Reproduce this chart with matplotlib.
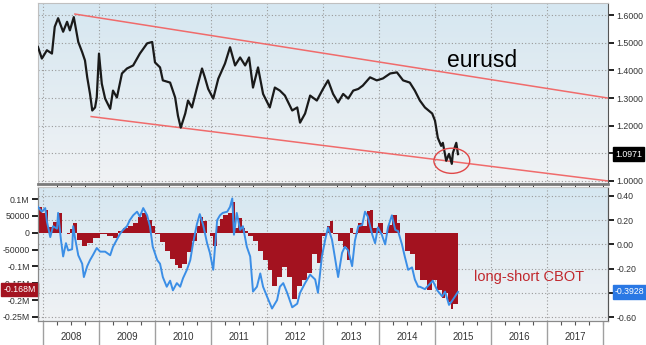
import matplotlib
matplotlib.use('Agg')
import matplotlib.pyplot as plt
import matplotlib.transforms as mtransforms
from matplotlib.colors import LinearSegmentedColormap
from matplotlib.patches import Ellipse
import numpy as np

plt.rcParams['font.family'] = ['Liberation Sans', 'DejaVu Sans']

# ---- data (x = decimal year) ----
px_t = [2007.91, 2007.98, 2008.07, 2008.16, 2008.21, 2008.27, 2008.36, 2008.43, 2008.48, 2008.55,
        2008.63, 2008.70, 2008.75, 2008.79, 2008.84, 2008.88, 2008.93, 2008.96, 2009.00, 2009.05,
        2009.11, 2009.20, 2009.25, 2009.32, 2009.41, 2009.50, 2009.61, 2009.73, 2009.86, 2009.95,
        2010.00, 2010.09, 2010.14, 2010.27, 2010.36, 2010.41, 2010.46, 2010.54, 2010.59, 2010.66,
        2010.75, 2010.84, 2010.89, 2010.95, 2011.04, 2011.13, 2011.25, 2011.34, 2011.43, 2011.52,
        2011.61, 2011.68, 2011.75, 2011.84, 2011.93, 2012.05, 2012.14, 2012.23, 2012.32, 2012.45,
        2012.54, 2012.59, 2012.68, 2012.77, 2012.89, 2013.00, 2013.09, 2013.18, 2013.27, 2013.36,
        2013.45, 2013.54, 2013.63, 2013.71, 2013.84, 2013.96, 2014.07, 2014.20, 2014.32, 2014.43,
        2014.55, 2014.64, 2014.73, 2014.82, 2014.95, 2015.00, 2015.05, 2015.11, 2015.14, 2015.20,
        2015.25, 2015.30, 2015.32, 2015.38, 2015.41]
px_v = [1.485, 1.443, 1.473, 1.461, 1.558, 1.589, 1.540, 1.576, 1.545, 1.593,
        1.503, 1.466, 1.436, 1.375, 1.315, 1.255, 1.266, 1.302, 1.461, 1.352,
        1.298, 1.261, 1.327, 1.302, 1.389, 1.407, 1.418, 1.461, 1.498, 1.503,
        1.429, 1.411, 1.364, 1.356, 1.302, 1.236, 1.193, 1.244, 1.291, 1.266,
        1.338, 1.407, 1.375, 1.333, 1.298, 1.370, 1.425, 1.484, 1.418, 1.447,
        1.418, 1.447, 1.338, 1.411, 1.315, 1.266, 1.338, 1.327, 1.309, 1.255,
        1.266, 1.211, 1.244, 1.309, 1.291, 1.333, 1.364, 1.315, 1.284, 1.315,
        1.298, 1.327, 1.333, 1.345, 1.375, 1.364, 1.371, 1.389, 1.393, 1.364,
        1.356, 1.327, 1.291, 1.266, 1.244, 1.218, 1.156, 1.127, 1.138, 1.073,
        1.098, 1.062, 1.102, 1.138, 1.0971]

# channel lines and circled area
upper_t = [2008.57, 2018.09]
upper_v = [1.604, 1.300]
lower_t = [2008.86, 2018.09]
lower_v = [1.233, 1.000]
circle_t, circle_v = 2015.30, 1.073

# CBOT net long-short contracts (left axis)
pos_t = [2007.91, 2007.98, 2008.04, 2008.09, 2008.18, 2008.27, 2008.34, 2008.43, 2008.48, 2008.54,
         2008.61, 2008.70, 2008.79, 2008.89, 2009.02, 2009.14, 2009.25, 2009.34, 2009.43, 2009.52,
         2009.61, 2009.70, 2009.77, 2009.86, 2009.95, 2010.00, 2010.09, 2010.18, 2010.27, 2010.36,
         2010.41, 2010.48, 2010.57, 2010.66, 2010.75, 2010.80, 2010.86, 2010.93, 2010.98, 2011.04,
         2011.11, 2011.16, 2011.21, 2011.30, 2011.38, 2011.43, 2011.48, 2011.55, 2011.61, 2011.66,
         2011.75, 2011.84, 2011.93, 2012.02, 2012.09, 2012.18, 2012.27, 2012.36, 2012.45, 2012.54,
         2012.63, 2012.71, 2012.80, 2012.89, 2012.98, 2013.07, 2013.13, 2013.18, 2013.27, 2013.36,
         2013.43, 2013.48, 2013.54, 2013.63, 2013.71, 2013.79, 2013.84, 2013.89, 2013.98, 2014.07,
         2014.16, 2014.23, 2014.32, 2014.38, 2014.46, 2014.55, 2014.64, 2014.73, 2014.86, 2014.95,
         2015.04, 2015.13, 2015.18, 2015.23, 2015.29, 2015.32, 2015.41]
pos_v = [76000, 57000, 66000, 18000, 33000, 57000, -2000, -5000, 10000, 29000,
         -21000, -40000, -30000, -15000, -5000, -10000, -15000, 5000, 15000, 20000,
         30000, 48000, 57000, 38000, 20000, -5000, -29000, -53000, -77000, -96000,
         -106000, -92000, -58000, -25000, 20000, 48000, 35000, 0, -10000, -40000,
         20000, 40000, 53000, 58000, 91000, 14000, 43000, 14000, 5000, -10000,
         -24000, -53000, -82000, -111000, -159000, -130000, -101000, -130000, -197000, -159000,
         -140000, -120000, -63000, -91000, -10000, 19000, 34000, -5000, -24000, -43000,
         -82000, 14000, -5000, 29000, 19000, 63000, 67000, 14000, 29000, -5000,
         24000, 53000, 29000, 0, -53000, -63000, -111000, -140000, -169000, -140000,
         -169000, -193000, -178000, -207000, -227000, -212000, -168000]

# blue series (right axis)
blue_t = [2007.91, 2007.98, 2008.04, 2008.07, 2008.13, 2008.18, 2008.25, 2008.27, 2008.32, 2008.36,
          2008.41, 2008.45, 2008.52, 2008.54, 2008.57, 2008.63, 2008.70, 2008.73, 2008.79, 2008.84,
          2008.89, 2008.96, 2009.02, 2009.11, 2009.20, 2009.25, 2009.32, 2009.38, 2009.43, 2009.50,
          2009.55, 2009.61, 2009.68, 2009.73, 2009.79, 2009.86, 2009.91, 2009.96, 2010.04, 2010.09,
          2010.14, 2010.21, 2010.27, 2010.32, 2010.39, 2010.45, 2010.50, 2010.57, 2010.63, 2010.68,
          2010.75, 2010.80, 2010.86, 2010.93, 2010.98, 2011.04, 2011.11, 2011.16, 2011.21, 2011.29,
          2011.34, 2011.38, 2011.41, 2011.46, 2011.52, 2011.57, 2011.64, 2011.70, 2011.75, 2011.82,
          2011.88, 2011.93, 2012.00, 2012.09, 2012.18, 2012.23, 2012.29, 2012.36, 2012.45, 2012.54,
          2012.59, 2012.68, 2012.77, 2012.86, 2012.91, 2012.98, 2013.04, 2013.09, 2013.16, 2013.21,
          2013.27, 2013.34, 2013.39, 2013.45, 2013.52, 2013.57, 2013.63, 2013.70, 2013.75, 2013.80,
          2013.88, 2013.93, 2013.98, 2014.05, 2014.11, 2014.16, 2014.23, 2014.29, 2014.34, 2014.41,
          2014.46, 2014.52, 2014.59, 2014.64, 2014.70, 2014.73, 2014.82, 2014.88, 2014.96, 2015.04,
          2015.13, 2015.18, 2015.25, 2015.30, 2015.41]
blue_v = [0.31, 0.27, 0.30, 0.19, 0.06, 0.15, 0.13, 0.26, 0.04, -0.10,
          0.01, -0.05, -0.04, 0.15, 0.06, -0.09, -0.16, -0.27, -0.18, -0.13,
          -0.09, -0.03, -0.06, -0.06, -0.09, -0.02, 0.04, 0.09, 0.12, 0.15,
          0.20, 0.24, 0.27, 0.23, 0.30, 0.24, 0.15, -0.02, -0.13, -0.16,
          -0.27, -0.35, -0.30, -0.38, -0.32, -0.35, -0.28, -0.21, -0.13, 0.01,
          0.17, 0.25, 0.16, 0.01, -0.07, -0.21, 0.20, 0.24, 0.26, 0.27,
          0.31, 0.38, 0.08, 0.26, 0.12, 0.15, -0.02, -0.10, -0.39, -0.35,
          -0.24, -0.35, -0.43, -0.53, -0.46, -0.35, -0.32, -0.40, -0.52, -0.49,
          -0.40, -0.32, -0.25, -0.29, -0.40, -0.10, 0.04, 0.14, 0.04, -0.10,
          -0.27, -0.07, -0.02, -0.05, -0.18, 0.03, 0.15, 0.16, 0.27, 0.23,
          0.08, 0.01, 0.14, 0.08, 0.00, 0.14, 0.24, 0.12, 0.11, 0.00,
          -0.10, -0.21, -0.19, -0.29, -0.35, -0.35, -0.37, -0.34, -0.30, -0.38,
          -0.43, -0.39, -0.50, -0.47, -0.3928]

years = list(range(2008, 2018))
px_ticks = [1.0, 1.1, 1.2, 1.3, 1.4, 1.5, 1.6]
pos_ticks = [100000, 50000, 0, -50000, -100000, -150000, -200000, -250000]
pos_labels = ['0.1M', '50000', '0', '-50000', '-0.1M', '-0.15M', '-0.2M', '-0.25M']
blue_ticks = [0.4, 0.2, 0.0, -0.2, -0.4, -0.6]

XMIN, XMAX = 2007.911, 2018.089
TXT = '#333333'
FS = 6.3


def gradient(ax, top, bottom):
    g = np.linspace(0, 1, 100).reshape(-1, 1)
    cmap = LinearSegmentedColormap.from_list('bg', [top, bottom])
    ax.imshow(g, cmap=cmap, extent=[0, 1, 0, 1], transform=ax.transAxes,
              aspect='auto', zorder=0, interpolation='bilinear')


fig = plt.figure(figsize=(6.46, 3.45), dpi=100)
fig.patch.set_facecolor('white')

L, W = 38 / 646, 570 / 646
ax1 = fig.add_axes([L, 1 - 184 / 345, W, 181 / 345])
ax2 = fig.add_axes([L, 1 - 321 / 345, W, 134 / 345], sharex=ax1)
ax3 = ax2.twinx()
axl = fig.add_axes([L, 0, W, 23 / 345], sharex=ax1)

# ---- top panel: eurusd ----
gradient(ax1, '#d6e7f1', '#f0f2f4')
ax1.plot(px_t, px_v, color='#1a1a1a', lw=1.6, zorder=3)
ax1.plot(upper_t, upper_v, color='#f06b6b', lw=1.1, zorder=2)
ax1.plot(lower_t, lower_v, color='#f06b6b', lw=1.1, zorder=2)
ax1.add_patch(Ellipse((circle_t, circle_v), 0.64, 0.091, fill=False,
                      edgecolor='#e04848', lw=1.0, zorder=4))
ax1.set_xlim(XMIN, XMAX)
ax1.set_ylim(0.989, 1.644)
ax1.yaxis.tick_right()
ax1.set_yticks(px_ticks)
ax1.set_yticklabels(['%.4f' % v if v != 1.1 else '' for v in px_ticks])
ax1.set_xticks(years)
ax1.tick_params(axis='x', length=0, labelbottom=False)
ax1.tick_params(axis='y', direction='out', length=4, width=1.4, color='#222222',
                labelsize=FS, labelcolor=TXT, pad=2)
ax1.grid(True, color='#9a9a9a', ls=(0, (1, 2)), lw=0.8, zorder=1)
ax1.text(0.779, 0.685, 'eurusd', transform=ax1.transAxes, fontsize=16.5,
         ha='center', va='center', color='black')
tr1 = mtransforms.blended_transform_factory(ax1.transAxes, ax1.transData)
ax1.text(1.012, px_v[-1], '%.4f' % px_v[-1], transform=tr1, fontsize=FS,
         color='white', ha='left', va='center', zorder=6, clip_on=False,
         bbox=dict(boxstyle='square,pad=0.25', fc='black', ec='black'))
for s in ['top', 'left']:
    ax1.spines[s].set_color('#c0c0c0')
ax1.spines['right'].set_color('#555555')
ax1.spines['bottom'].set_color('#7a7a7a')
ax1.spines['bottom'].set_linewidth(2)

# ---- bottom panel: positioning ----
gradient(ax2, '#d6e7f1', '#f0f2f4')
tr2 = mtransforms.blended_transform_factory(ax2.transAxes, ax3.transData)
for v in blue_ticks:
    ax2.plot([0, 1], [v, v], transform=tr2, color='#9a9a9a', ls=(0, (1, 2)), lw=0.8, zorder=1)
for y in years:
    ax2.axvline(y, color='#9a9a9a', ls=(0, (1, 2)), lw=0.8, zorder=1)
ax2.fill_between(pos_t, pos_v, 0, step='post', color='#a3121f', lw=0, zorder=2)
ax2.set_ylim(-261900, 135600)
ax2.set_yticks(pos_ticks)
ax2.set_yticklabels(pos_labels)
ax2.tick_params(axis='y', direction='out', length=4, width=1.4, color='#222222',
                labelsize=FS, labelcolor=TXT, pad=2)
ax2.set_xticks(years)
ax2.set_xticks([y + q / 4 for y in years for q in (1, 2, 3)] + [2018.0], minor=True)
ax2.tick_params(axis='x', which='major', length=0, labelbottom=False)
ax2.tick_params(axis='x', which='minor', direction='out', length=3, width=0.8, color='#555555')
ax2.text(-0.004, pos_v[-1], '-0.168M', transform=mtransforms.blended_transform_factory(
    ax2.transAxes, ax2.transData), fontsize=FS, color='white', ha='right', va='center',
    zorder=6, clip_on=False, bbox=dict(boxstyle='square,pad=0.25', fc='#a3121f', ec='#a3121f'))
ax2.text(0.861, 0.328, 'long-short CBOT', transform=ax2.transAxes, fontsize=10.5,
         color='#c0282d', ha='center', va='center', zorder=6)

ax3.plot(blue_t, blue_v, color='#3b8ee6', lw=1.4, zorder=3)
ax3.set_ylim(-0.633, 0.474)
ax3.set_yticks(blue_ticks)
ax3.set_yticklabels(['%.2f' % v if v != -0.4 else '' for v in blue_ticks])
ax3.tick_params(axis='y', direction='out', length=4, width=1.4, color='#222222',
                labelsize=FS, labelcolor=TXT, pad=2)
ax3.text(1.012, blue_v[-1], '%.4f' % blue_v[-1], transform=mtransforms.blended_transform_factory(
    ax3.transAxes, ax3.transData), fontsize=FS, color='white', ha='left', va='center',
    zorder=6, clip_on=False, bbox=dict(boxstyle='square,pad=0.25', fc='#2a78e4', ec='#2a78e4'))
for a in (ax2, ax3):
    a.spines['top'].set_color('#c8c8c8')
    a.spines['left'].set_color('#8a8a8a')
    a.spines['right'].set_color('#555555')
    a.spines['bottom'].set_color('#8a8a8a')

# ---- year label band ----
axl.set_xlim(XMIN, XMAX)
axl.set_ylim(0, 1)
axl.axis('off')
for y in years + [2018]:
    axl.axvline(y, color='#a0a0a0', lw=1)
for y in years:
    axl.text(y + 0.5, 0.35, str(y), fontsize=6.9, color=TXT, ha='center', va='center')

fig.savefig('out.png', dpi=100)
